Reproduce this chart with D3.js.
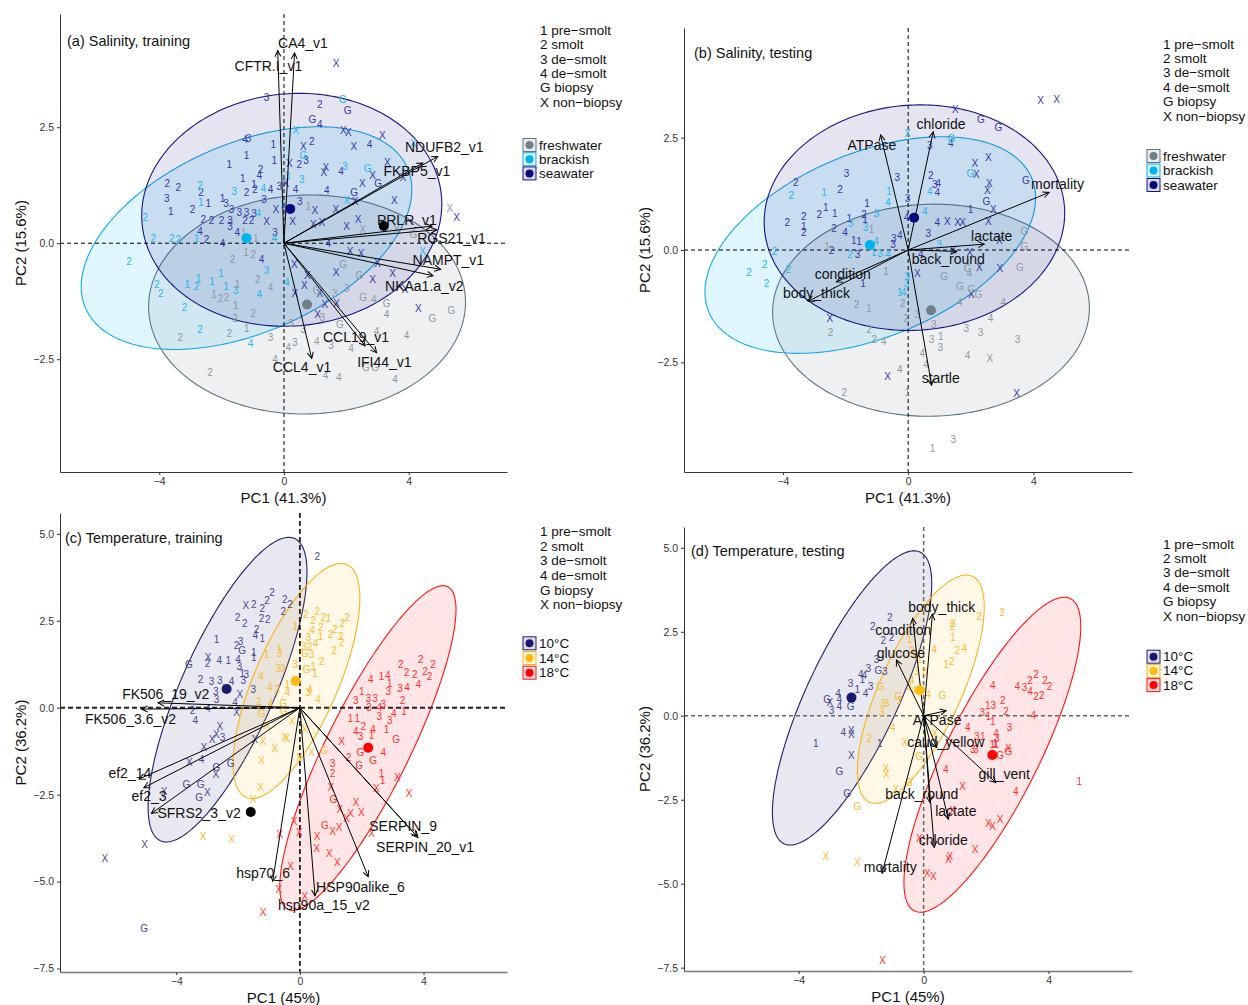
<!DOCTYPE html>
<html><head><meta charset="utf-8">
<script src="https://cdn.jsdelivr.net/npm/d3@7"></script>
<style>body{margin:0;background:#fff} text{font-family:"Liberation Sans",Arial,sans-serif}</style>
</head><body><svg id="c" width="1248" height="1005"></svg>
<script>
// ---------- DATA ----------
const legendLines = ["1 pre\u2212smolt","2 smolt","3 de\u2212smolt","4 de\u2212smolt","G biopsy","X non\u2212biopsy"];
const salinityKeys = [["fw","freshwater"],["br","brackish"],["sw","seawater"]];
const temperatureKeys = [["t10","10°C"],["t14","14°C"],["t18","18°C"]];

// ellipses: [group, cx, cy, rx, ry, phase]
const ellipsesA = [["fw",0.74,-1.32,5.08,2.36,0.02],["br",-1.2,0.11,5.3,2.4,0.45],["sw",0.25,0.72,4.81,2.51,0.05]];
const ellipsesB = [["fw",0.73,-1.34,5.06,2.36,0.02],["br",-1.21,0.11,5.28,2.41,0.45],["sw",0.2,0.72,4.8,2.51,0.04]];
const ellipsesC = [["t10",-2.34,0.52,2.57,4.38,0.88],["t14",-0.11,0.77,2.05,3.38,0.78],["t18",2.2,-1.16,2.85,4.67,1.02]];
const ellipsesD = [["t10",-2.29,0.53,2.55,4.38,0.89],["t14",-0.09,0.79,2.03,3.4,0.8],["t18",2.2,-1.16,2.83,4.69,0.95]];

// group means: [x, y, group]
const meansA = [[0.74,-1.32,"fw"],[-1.2,0.11,"br"],[0.2,0.74,"sw"],[3.2,0.37,"k"]];
const meansB = [[0.73,-1.34,"fw"],[-1.22,0.11,"br"],[0.19,0.72,"sw"]];
const meansC = [[-2.37,0.54,"t10"],[-0.14,0.77,"t14"],[2.21,-1.15,"t18"],[-1.59,-3.0,"k"]];
const meansD = [[-2.31,0.54,"t10"],[-0.12,0.76,"t14"],[2.2,-1.17,"t18"]];

// loadings: [name, tipX, tipY, labelX, labelY]
const arrowsA = [
 ["CFTR.I_v1",-0.2,4.15,-0.5,3.81],["CA4_v1",0.34,4.1,0.61,4.31],["NDUFB2_v1",4.93,1.87,5.14,2.07],
 ["FKBP5_v1",4.45,1.73,4.26,1.56],["PRLR_v1",4.74,0.37,3.94,0.49],["RGS21_v1",4.9,0.29,5.37,0.12],
 ["NAMPT_v1",5.02,-0.56,5.27,-0.37],["NKAa1.a_v2",4.78,-0.7,4.5,-0.92],["CCL19_v1",2.6,-2.21,2.31,-2.03],
 ["IFI44_v1",2.97,-2.36,3.22,-2.55],["CCL4_v1",0.89,-2.48,0.58,-2.67]];
const arrowsB = [
 ["ATPase",-0.88,2.56,-1.16,2.34],["chloride",0.8,2.63,1.05,2.8],["mortality",4.5,1.28,4.77,1.46],
 ["lactate",2.43,0.13,2.67,0.31],["back_round",1.55,-0.03,1.28,-0.2],["condition",-2.29,-0.71,-2.09,-0.54],
 ["body_thick",-3.19,-1.14,-2.93,-0.96],["startle",0.75,-3.01,1.04,-2.84]];
const arrowsC = [
 ["FK506_19_v2",-4.59,0.14,-4.34,0.39],["FK506_3.6_v2",-5.12,-0.04,-5.48,-0.33],["ef2_14",-5.2,-2.05,-5.5,-1.87],
 ["ef2_3",-5.05,-2.3,-4.88,-2.54],["SFRS2_3_v2",-4.8,-3.04,-3.26,-3.02],["SERPIN_9",3.78,-3.69,3.34,-3.4],
 ["SERPIN_20_v1",3.82,-3.73,4.05,-4.0],["hsp70_6",-0.88,-4.99,-1.19,-4.75],["HSP90alike_6",2.21,-4.86,1.96,-5.15],
 ["hsp90a_15_v2",0.49,-5.41,0.78,-5.68]];
const arrowsD = [
 ["body_thick",0.28,3.02,0.58,3.23],["condition",-0.35,2.9,-0.65,2.55],["glucose",-0.87,1.66,-0.73,1.88],
 ["ATPase",0.72,0.15,0.43,-0.13],["caud_yellow",0.42,-0.95,0.71,-0.77],["gill_vent",2.31,-1.99,2.58,-1.74],
 ["back_round",0.2,-2.58,-0.06,-2.33],["lactate",0.79,-3.08,1.03,-2.84],["chloride",0.34,-3.92,0.63,-3.7],
 ["mortality",-1.33,-4.69,-1.07,-4.49]];

// sample scores: [x, y, label, group]
const pointsA = [
 [1.67,3.88,"X","sw"],[-0.56,3.15,"3","sw"],[1.15,3.0,"2","sw"],[2.04,2.87,"G","sw"],[0.91,2.67,"G","sw"],[1.15,2.55,"4","sw"],
 [1.9,2.44,"X","sw"],[2.06,2.39,"X","sw"],[3.15,2.33,"X","sw"],[-1.14,2.26,"3","sw"],[-1.25,2.24,"4","sw"],[-0.34,2.12,"1","sw"],
 [0.62,2.08,"X","sw"],[0.89,2.19,"2","sw"],[2.24,2.08,"X","sw"],[2.74,2.13,"4","sw"],[-1.2,1.88,"1","sw"],[-0.31,1.78,"1","sw"],
 [0.17,1.71,"X","sw"],[0.49,1.69,"2","sw"],[0.71,1.78,"3","sw"],[-1.75,1.69,"1","sw"],[1.34,1.64,"X","sw"],[1.28,1.53,"X","sw"],
 [1.83,1.54,"4","sw"],[2.84,1.47,"X","sw"],[3.31,1.74,"X","sw"],[-0.75,1.59,"2","sw"],[-0.79,1.47,"4","sw"],[-1.32,1.4,"1","sw"],
 [3.02,1.28,"G","sw"],[2.51,1.28,"X","sw"],[3.82,1.42,"X","sw"],[-3.74,1.28,"2","sw"],[-3.39,1.2,"2","sw"],[-2.66,1.09,"2","sw"],
 [-1.2,1.09,"2","sw"],[-0.96,1.27,"1","sw"],[-0.93,1.16,"2","sw"],[-0.43,1.16,"4","sw"],[-0.15,1.22,"3","sw"],[0.37,1.15,"4","sw"],
 [1.37,1.14,"4","sw"],[2.25,1.09,"G","sw"],[3.54,0.93,"X","sw"],[-3.76,0.97,"3","sw"],[-2.43,0.86,"1","sw"],[-1.97,0.97,"1","sw"],
 [-1.86,0.86,"3","sw"],[-0.64,0.95,"3","sw"],[-3.63,0.68,"1","sw"],[-2.93,0.72,"2","sw"],[-1.68,0.72,"3","sw"],[-1.43,0.66,"3","sw"],
 [-1.2,0.66,"3","sw"],[-0.96,0.65,"3","sw"],[-0.26,0.73,"X","sw"],[0.51,0.9,"3","sw"],[0.99,0.7,"X","sw"],[1.66,0.72,"X","sw"],
 [-2.59,0.52,"2","sw"],[-2.32,0.5,"2","sw"],[-2.0,0.49,"2","sw"],[-1.73,0.49,"3","sw"],[-1.25,0.49,"2","sw"],[-1.04,0.49,"2","sw"],
 [-0.56,0.47,"X","sw"],[0.28,0.47,"X","sw"],[0.94,0.4,"X","sw"],[1.21,0.45,"X","sw"],[2.01,0.36,"X","sw"],[2.38,0.52,"X","sw"],
 [5.53,0.56,"X","sw"],[-1.73,0.36,"3","sw"],[-2.69,0.25,"4","sw"],[-1.5,0.23,"4","sw"],[-0.29,0.23,"3","sw"],[-2.48,0.07,"2","sw"],
 [-1.97,0.0,"4","sw"],[1.42,0.0,"4","sw"],[-0.72,-0.36,"4","sw"],[0.33,-0.45,"X","sw"],[0.75,-0.7,"X","sw"],[0.65,-0.92,"X","sw"],
 [0.35,-1.09,"X","sw"],[1.15,-1.09,"X","sw"],[1.31,-1.33,"X","sw"],[1.69,-1.29,"X","sw"],[1.08,-1.54,"X","sw"],[2.84,-0.78,"X","sw"],
 [3.48,-0.65,"X","sw"],[3.88,-0.99,"X","sw"],[4.31,-1.4,"X","sw"],[3.0,-0.43,"X","sw"],[1.67,-0.63,"X","sw"],[2.12,-0.18,"X","sw"],
 [2.47,-0.22,"X","sw"],[0.06,1.29,"X","sw"],[2.28,0.9,"X","sw"],
 [1.88,3.1,"G","br"],[0.38,2.44,"X","br"],[4.15,2.16,"X","br"],[0.62,1.9,"G","br"],[1.96,1.65,"3","br"],[2.68,1.62,"G","br"],
 [0.11,1.44,"3","br"],[0.57,1.38,"3","br"],[-2.69,1.24,"2","br"],[-1.59,1.11,"3","br"],[-0.66,1.19,"4","br"],[-2.67,0.88,"1","br"],
 [2.01,0.93,"X","br"],[-0.82,0.65,"4","br"],[-0.04,0.83,"1","br"],[-4.45,0.56,"2","br"],[-4.19,0.11,"2","br"],[-3.39,0.07,"2","br"],
 [-2.8,0.11,"1","br"],[4.44,-0.18,"X","br"],[-4.97,-0.4,"2","br"],[-4.08,-0.88,"2","br"],[-3.95,-1.08,"2","br"],[-3.1,-0.88,"1","br"],
 [-2.8,-0.93,"2","br"],[-2.74,-0.75,"1","br"],[-2.31,-0.83,"1","br"],[-3.19,-1.39,"2","br"],[-2.69,-1.85,"2","br"],[-1.07,-2.17,"4","br"],
 [-2.02,-0.65,"1","br"],[-1.86,-0.93,"1","br"],[-1.55,-1.02,"3","br"],[-0.79,-1.11,"4","br"],[-0.56,-0.59,"3","br"],[0.09,-0.85,"4","br"],
 [-3.6,0.1,"2","br"],[-0.3,0.1,"4","br"],
 [0.78,0.8,"1","fw"],[2.52,0.29,"X","fw"],[5.32,0.75,"X","fw"],[3.61,0.29,"X","fw"],[4.15,0.18,"G","fw"],[-3.32,-2.03,"2","fw"],
 [-1.75,-1.94,"2","fw"],[-1.2,-1.83,"1","fw"],[-0.43,-2.03,"3","fw"],[-2.37,-2.78,"2","fw"],[-2.24,-1.11,"1","fw"],[-2.03,-1.19,"2","fw"],
 [-1.84,-1.16,"2","fw"],[-1.5,-0.88,"1","fw"],[-0.85,-0.79,"2","fw"],[-0.43,-0.95,"4","fw"],[-1.55,-1.34,"1","fw"],[-0.98,-1.52,"2","fw"],
 [-1.57,-1.63,"2","fw"],[-1.65,-0.36,"2","fw"],[-1.22,-0.2,"1","fw"],[-0.98,-0.25,"2","fw"],[1.05,-1.01,"G","fw"],[1.63,-1.08,"3","fw"],
 [2.01,-0.97,"3","fw"],[1.23,-1.59,"3","fw"],[1.79,-1.76,"G","fw"],[0.22,-1.74,"3","fw"],[0.62,-1.85,"3","fw"],[0.14,-2.24,"4","fw"],
 [0.35,-2.14,"3","fw"],[1.05,-2.12,"4","fw"],[1.51,-2.21,"3","fw"],[2.15,-2.26,"4","fw"],[-0.29,-2.51,"4","fw"],[1.33,-2.84,"4","fw"],
 [1.76,-2.89,"4","fw"],[2.63,-2.67,"G","fw"],[2.92,-2.67,"G","fw"],[3.56,-2.93,"4","fw"],[2.97,-1.9,"4","fw"],[3.93,-1.98,"4","fw"],
 [3.29,-1.54,"4","fw"],[2.54,-1.16,"G","fw"],[2.88,-1.21,"4","fw"],[3.29,-1.29,"G","fw"],[4.76,-1.62,"G","fw"],[5.37,-1.44,"G","fw"],
 [1.9,-0.45,"G","fw"],[2.42,-0.7,"G","fw"],[-1.3,0.23,"1","fw"],[-0.9,0.1,"1","fw"]];

const pointsB = [
 [4.23,3.33,"X","sw"],[4.74,3.36,"X","sw"],[1.51,3.12,"X","sw"],[2.32,2.91,"G","sw"],[2.88,2.72,"G","sw"],[1.36,2.38,"4","sw"],
 [0.69,2.32,"3","sw"],[2.56,2.06,"X","sw"],[2.13,1.93,"X","sw"],[2.18,1.67,"X","sw"],[-1.97,1.71,"3","sw"],[-0.35,1.62,"3","sw"],
 [0.72,1.65,"2","sw"],[0.85,1.45,"3","sw"],[0.96,1.48,"4","sw"],[0.93,1.28,"4","sw"],[2.59,1.47,"X","sw"],[2.53,1.32,"X","sw"],
 [3.76,1.54,"G","sw"],[-3.59,1.5,"2","sw"],[-2.18,1.35,"2","sw"],[-0.02,1.15,"3","sw"],[-1.31,1.04,"1","sw"],[2.5,1.08,"G","sw"],
 [2.72,0.91,"X","sw"],[1.99,0.91,"1","sw"],[-3.86,0.62,"2","sw"],[-3.33,0.74,"2","sw"],[-2.84,0.78,"2","sw"],[-2.63,0.94,"1","sw"],
 [-2.34,0.82,"1","sw"],[-1.88,0.71,"1","sw"],[-1.41,0.8,"2","sw"],[-1.38,0.67,"1","sw"],[-0.05,0.72,"4","sw"],[0.93,0.62,"4","sw"],
 [1.25,0.63,"X","sw"],[1.58,0.61,"X","sw"],[1.74,0.61,"X","sw"],[2.56,0.63,"X","sw"],[-3.33,0.52,"1","sw"],[-3.33,0.39,"2","sw"],
 [-2.37,0.48,"2","sw"],[-2.02,0.39,"4","sw"],[0.64,0.36,"3","sw"],[2.91,0.21,"X","sw"],[-1.74,0.22,"1","sw"],[-1.57,0.19,"1","sw"],
 [-0.27,0.33,"4","sw"],[-0.46,0.26,"3","sw"],[-0.48,0.13,"3","sw"],[-2.45,0.0,"2","sw"],[-1.62,-0.11,"3","sw"],[1.97,-0.06,"X","sw"],
 [0.29,-0.52,"X","sw"],[2.27,-0.39,"X","sw"],[2.93,-0.41,"X","sw"],[-1.44,-0.74,"1","sw"],[2.02,-0.98,"X","sw"],[-2.5,-1.52,"X","sw"],
 [-0.66,-2.81,"X","sw"],[3.46,-3.19,"X","sw"],[1.44,0.0,"X","sw"],[0.4,-0.1,"4","sw"],
 [-0.02,2.6,"X","br"],[1.38,2.49,"G","br"],[1.99,1.71,"G","br"],[0.69,1.3,"4","br"],[-3.73,1.22,"2","br"],[-2.69,1.28,"1","br"],
 [-0.61,1.3,"1","br"],[-0.64,1.05,"4","br"],[-1.83,0.59,"3","br"],[-1.01,0.82,"3","br"],[0.53,0.85,"4","br"],[-1.36,0.5,"3","br"],
 [-1.03,0.19,"4","br"],[0.99,0.13,"3","br"],[-4.26,-0.04,"2","br"],[-1.86,-0.09,"2","br"],[-0.64,-0.11,"4","br"],[-4.58,-0.33,"2","br"],
 [-5.08,-0.5,"2","br"],[-4.52,-0.74,"2","br"],[-3.83,-0.43,"2","br"],[-0.03,-0.58,"3","br"],[-0.05,-0.74,"3","br"],[-0.27,-0.95,"1","br"],
 [-0.15,-0.95,"4","br"],[-1.1,-0.05,"1","br"],[-0.9,-0.08,"3","br"],
 [-1.17,0.45,"1","fw"],[3.71,0.41,"G","fw"],[-2.59,0.07,"1","fw"],[3.71,0.07,"G","fw"],[-0.71,-0.48,"1","fw"],[1.15,-0.59,"G","fw"],
 [1.9,-0.41,"G","fw"],[1.95,-0.52,"4","fw"],[3.57,-0.39,"G","fw"],[1.65,-0.82,"G","fw"],[2.02,-0.89,"G","fw"],[2.24,-0.98,"G","fw"],
 [1.65,-1.17,"4","fw"],[3.04,-1.17,"4","fw"],[-1.65,-1.22,"2","fw"],[-1.25,-1.3,"1","fw"],[-0.18,-1.19,"2","fw"],[-0.07,-1.52,"2","fw"],
 [0.3,-1.43,"3","fw"],[2.63,-1.52,"4","fw"],[0.82,-1.65,"3","fw"],[-2.48,-1.84,"2","fw"],[-1.25,-1.77,"2","fw"],[-1.09,-2.0,"2","fw"],
 [-0.78,-2.03,"4","fw"],[1.86,-1.74,"3","fw"],[2.31,-1.84,"3","fw"],[3.49,-1.99,"3","fw"],[1.04,-1.93,"1","fw"],[0.75,-2.0,"3","fw"],
 [1.03,-2.17,"3","fw"],[0.45,-2.3,"4","fw"],[0.57,-2.55,"4","fw"],[1.9,-2.35,"4","fw"],[2.61,-2.41,"X","fw"],[-0.27,-2.67,"4","fw"],
 [-2.04,-3.16,"2","fw"],[-0.03,-3.18,"1","fw"],[1.44,-4.22,"3","fw"],[0.78,-4.42,"1","fw"]];

const pointsC = [
 [0.56,4.35,"2","t10"],[-0.9,3.31,"2","t10"],[-0.49,3.12,"2","t10"],[-0.32,2.97,"2","t10"],[-1.75,2.94,"X","t10"],[-1.49,2.98,"2","t10"],
 [-1.06,3.08,"2","t10"],[-1.22,2.84,"2","t10"],[-0.54,2.76,"2","t10"],[-2.02,2.59,"2","t10"],[-1.78,2.43,"2","t10"],[-1.24,2.57,"2","t10"],
 [-1.04,2.54,"2","t10"],[-1.4,2.26,"2","t10"],[-1.44,2.09,"4","t10"],[-1.22,2.0,"1","t10"],[-2.7,1.95,"1","t10"],[-1.92,1.9,"3","t10"],
 [-2.05,1.8,"2","t10"],[-1.87,1.64,"G","t10"],[-1.49,1.58,"1","t10"],[-1.49,1.44,"1","t10"],[-2.97,1.45,"X","t10"],[-2.99,1.28,"2","t10"],
 [-2.61,1.35,"4","t10"],[-2.32,1.37,"1","t10"],[-2.0,1.4,"4","t10"],[-3.59,1.25,"G","t10"],[-1.96,1.18,"3","t10"],[-1.86,0.97,"1","t10"],
 [-1.73,0.96,"3","t10"],[-3.21,0.82,"2","t10"],[-2.86,0.75,"3","t10"],[-2.59,0.78,"3","t10"],[-2.21,0.75,"4","t10"],[-1.83,0.78,"3","t10"],
 [-1.51,0.51,"3","t10"],[-2.72,0.46,"3","t10"],[-2.7,0.24,"3","t10"],[-1.94,0.38,"X","t10"],[-2.1,0.14,"4","t10"],[-3.47,-0.07,"2","t10"],
 [-2.97,-0.02,"4","t10"],[-3.38,-0.37,"4","t10"],[-2.05,-0.14,"X","t10"],[-2.59,-0.55,"X","t10"],[-2.7,-0.76,"X","t10"],[-2.84,-0.91,"X","t10"],
 [-3.11,-1.14,"X","t10"],[-3.58,-1.58,"X","t10"],[-3.18,-1.5,"4","t10"],[-2.7,-1.72,"G","t10"],[-2.24,-1.6,"G","t10"],[-2.72,-1.91,"X","t10"],
 [-3.67,-2.2,"G","t10"],[-3.21,-2.2,"G","t10"],[-2.99,-2.45,"X","t10"],[-4.39,-2.42,"X","t10"],[-3.26,-2.58,"G","t10"],[-5.02,-3.93,"X","t10"],
 [-6.31,-4.34,"X","t10"],[-5.04,-6.35,"G","t10"],[-1.46,-0.91,"X","t10"],[-2.5,-0.85,"3","t10"],[-2.4,0.55,"X","t10"],
 [0.19,2.67,"2","t14"],[0.56,2.76,"2","t14"],[0.76,2.6,"2","t14"],[0.92,2.57,"1","t14"],[0.43,2.52,"2","t14"],[1.53,2.6,"2","t14"],
 [1.37,2.43,"2","t14"],[-0.14,2.33,"1","t14"],[0.67,2.31,"2","t14"],[0.4,2.22,"4","t14"],[0.27,2.02,"3","t14"],[0.67,2.04,"1","t14"],
 [1.13,2.26,"2","t14"],[0.99,2.12,"2","t14"],[1.32,2.06,"2","t14"],[1.35,1.87,"2","t14"],[0.13,1.76,"3","t14"],[0.32,1.76,"2","t14"],
 [0.51,1.85,"4","t14"],[1.11,1.64,"2","t14"],[-0.67,1.68,"1","t14"],[-1.08,1.53,"1","t14"],[-0.65,1.56,"3","t14"],[0.16,1.56,"G","t14"],
 [0.38,1.54,"3","t14"],[0.7,1.34,"2","t14"],[0.43,1.2,"1","t14"],[-0.16,1.23,"3","t14"],[-0.7,1.13,"3","t14"],[-0.55,1.13,"3","t14"],
 [0.22,1.1,"G","t14"],[0.49,0.97,"1","t14"],[-1.26,0.91,"4","t14"],[-0.97,0.59,"4","t14"],[-0.73,0.51,"2","t14"],[-0.41,0.68,"1","t14"],
 [-0.41,0.44,"4","t14"],[0.32,0.53,"4","t14"],[0.27,0.43,"3","t14"],[0.59,0.24,"4","t14"],[-1.33,0.17,"2","t14"],[-0.95,0.12,"4","t14"],
 [-0.54,0.12,"G","t14"],[-0.52,-0.12,"G","t14"],[-1.24,-0.16,"G","t14"],[-0.25,-0.4,"X","t14"],[-1.08,-0.5,"X","t14"],[0.16,-0.62,"X","t14"],
 [-1.19,-0.98,"X","t14"],[-0.81,-1.17,"X","t14"],[-0.49,-0.85,"X","t14"],[-0.41,-0.88,"X","t14"],[-1.24,-1.51,"X","t14"],[-0.02,-1.43,"X","t14"],
 [0.38,-1.29,"X","t14"],[0.78,-1.24,"G","t14"],[-1.27,-2.29,"X","t14"],[-1.51,-2.64,"X","t14"],[-3.13,-3.69,"X","t14"],[-2.21,-3.79,"X","t14"],
 [3.91,1.39,"2","t18"],[4.31,1.23,"2","t18"],[3.26,1.25,"2","t18"],[3.45,1.01,"2","t18"],[3.72,0.96,"2","t18"],[4.05,1.04,"2","t18"],
 [4.19,0.91,"2","t18"],[2.29,0.8,"4","t18"],[2.64,0.91,"1","t18"],[2.84,0.94,"4","t18"],[2.91,0.7,"1","t18"],[3.24,0.56,"3","t18"],
 [3.47,0.59,"4","t18"],[3.83,0.68,"4","t18"],[2.0,0.46,"1","t18"],[1.81,0.2,"3","t18"],[2.21,0.27,"3","t18"],[2.43,0.27,"3","t18"],
 [2.86,0.46,"3","t18"],[2.7,0.1,"3","t18"],[3.32,0.2,"2","t18"],[2.24,0.01,"3","t18"],[2.57,0.01,"4","t18"],[3.37,-0.12,"1","t18"],
 [3.04,-0.18,"4","t18"],[1.64,-0.31,"1","t18"],[1.86,-0.31,"1","t18"],[2.57,-0.26,"3","t18"],[2.91,-0.37,"3","t18"],[2.05,-0.53,"2","t18"],
 [2.8,-0.64,"1","t18"],[1.81,-0.69,"4","t18"],[1.96,-0.83,"3","t18"],[2.32,-0.79,"1","t18"],[2.37,-0.62,"4","t18"],[3.11,-0.91,"G","t18"],
 [1.35,-0.98,"X","t18"],[1.57,-1.43,"2","t18"],[1.96,-1.29,"G","t18"],[2.7,-1.29,"4","t18"],[1.06,-1.6,"3","t18"],[1.06,-1.89,"2","t18"],
 [1.92,-1.65,"G","t18"],[2.37,-1.51,"G","t18"],[2.64,-1.9,"1","t18"],[2.67,-2.1,"1","t18"],[3.15,-2.01,"X","t18"],[2.47,-2.32,"X","t18"],
 [3.53,-2.47,"X","t18"],[1.0,-2.29,"X","t18"],[1.08,-2.64,"G","t18"],[1.81,-2.73,"X","t18"],[1.29,-2.93,"X","t18"],[1.64,-3.04,"X","t18"],
 [1.99,-3.02,"X","t18"],[1.51,-3.19,"X","t18"],[-0.19,-3.28,"X","t18"],[0.81,-3.38,"G","t18"],[1.06,-3.55,"X","t18"],[1.27,-3.45,"X","t18"],
 [-0.65,-3.66,"X","t18"],[-0.02,-3.6,"X","t18"],[0.56,-3.71,"X","t18"],[0.54,-4.05,"X","t18"],[0.95,-4.19,"X","t18"],[1.21,-4.46,"X","t18"],
 [2.32,-3.62,"X","t18"],[-0.3,-4.56,"X","t18"],[-0.68,-5.23,"X","t18"],[0.16,-5.44,"X","t18"],[-1.19,-5.9,"X","t18"]];

const pointsD = [
 [-1.08,2.92,"2","t10"],[-1.63,2.67,"2","t10"],[-1.03,2.33,"2","t10"],[-1.29,2.25,"2","t10"],[-1.51,1.68,"3","t10"],[-1.77,1.41,"3","t10"],
 [-1.45,1.34,"G","t10"],[-1.24,1.31,"3","t10"],[-2.01,1.24,"4","t10"],[-1.9,1.2,"4","t10"],[-1.96,1.08,"1","t10"],[-2.34,0.96,"3","t10"],
 [-2.12,0.78,"1","t10"],[-1.7,0.86,"3","t10"],[-1.86,0.66,"4","t10"],[-2.74,0.66,"4","t10"],[-3.09,0.47,"G","t10"],[-3.0,0.39,"X","t10"],
 [-2.7,0.47,"4","t10"],[-2.7,0.29,"4","t10"],[-2.34,0.27,"G","t10"],[-2.95,0.17,"3","t10"],[-2.57,-0.51,"4","t10"],[-2.31,-0.43,"X","t10"],
 [-2.31,-0.55,"X","t10"],[-3.45,-0.82,"1","t10"],[-2.31,-1.17,"X","t10"],[-1.4,-0.84,"1","t10"],[-2.7,-1.67,"G","t10"],[-2.45,-2.31,"G","t10"],
 [-1.38,0.86,"G","t14"],[-1.19,0.35,"3","t14"],[-1.3,0.35,"3","t14"],[-1.35,0.09,"3","t14"],[-0.99,-0.36,"4","t14"],[-1.74,-0.69,"2","t14"],
 [-0.81,0.57,"G","t14"],[-0.78,0.45,"1","t14"],[0.93,2.75,"2","t14"],[0.93,2.67,"2","t14"],[0.93,2.33,"1","t14"],[1.08,1.95,"2","t14"],
 [1.3,2.0,"4","t14"],[0.72,1.54,"1","t14"],[0.9,1.61,"2","t14"],[1.77,2.95,"2","t14"],[2.52,3.07,"2","t14"],[0.34,1.97,"4","t14"],
 [-0.28,1.76,"4","t14"],[-0.22,1.31,"3","t14"],[-0.12,1.66,"1","t14"],[-0.47,0.88,"3","t14"],[-0.31,0.76,"4","t14"],[0.6,0.59,"G","t14"],
 [0.15,0.62,"4","t14"],[0.04,1.31,"3","t14"],[-0.38,1.04,"4","t14"],[0.36,-0.53,"X","t14"],[-0.46,2.27,"1","t14"],[-0.38,1.95,"2","t14"],
 [-0.6,-0.8,"X","t14"],[-2.12,-2.69,"G","t14"],[-1.21,-1.57,"X","t14"],[-1.19,-1.74,"X","t14"],[-0.89,-2.19,"X","t14"],[-0.46,-1.99,"G","t14"],
 [-0.14,-1.2,"G","t14"],[-3.13,-4.18,"X","t14"],[-2.12,-4.38,"X","t14"],
 [3.6,1.24,"2","t18"],[3.89,1.06,"2","t18"],[4.03,0.86,"2","t18"],[3.41,1.06,"2","t18"],[2.21,0.91,"4","t18"],[3.0,0.86,"4","t18"],
 [3.23,0.84,"3","t18"],[3.41,0.71,"4","t18"],[3.6,0.57,"2","t18"],[3.78,0.59,"2","t18"],[2.53,0.44,"2","t18"],[2.05,0.32,"1","t18"],
 [2.23,0.32,"3","t18"],[1.88,0.09,"3","t18"],[2.07,-0.01,"1","t18"],[2.64,0.12,"2","t18"],[2.21,-0.18,"1","t18"],[3.51,0.02,"4","t18"],
 [1.41,-0.36,"4","t18"],[1.7,-0.63,"3","t18"],[1.89,-0.63,"1","t18"],[2.32,-0.53,"4","t18"],[2.34,-0.67,"3","t18"],[2.75,-0.35,"3","t18"],
 [2.29,-0.84,"1","t18"],[1.57,-1.0,"3","t18"],[1.68,-1.0,"3","t18"],[2.71,-0.97,"X","t18"],[2.45,-1.17,"G","t18"],[2.71,-1.07,"G","t18"],
 [2.2,-0.85,"1","t18"],[2.32,-0.85,"1","t18"],[0.71,-1.6,"4","t18"],[1.25,-2.11,"X","t18"],[4.98,-1.96,"1","t18"],[2.95,-2.26,"4","t18"],
 [2.45,-3.1,"X","t18"],[2.07,-3.22,"X","t18"],[2.21,-3.3,"X","t18"],[0.93,-2.81,"X","t18"],[-0.14,-3.65,"X","t18"],[1.65,-3.98,"X","t18"],
 [0.84,-4.2,"X","t18"],[0.79,-4.28,"X","t18"],[0.12,-4.69,"X","t18"],[0.31,-4.79,"X","t18"],[-1.31,-7.3,"X","t18"]];

// ---------- STYLE ----------
const col = {
 fw:{pt:"#8c99a2",stroke:"#5e7685",fill:"#708090",fo:0.12,mean:"#6f8089"},
 br:{pt:"#25b6ee",stroke:"#14aae8",fill:"#00b2ee",fo:0.12,mean:"#00b2ee"},
 sw:{pt:"#3636a3",stroke:"#161684",fill:"#000080",fo:0.1,mean:"#08087e"},
 t10:{pt:"#48488a",stroke:"#1f1f6a",fill:"#191970",fo:0.1,mean:"#191970"},
 t14:{pt:"#f6bc35",stroke:"#fbb31a",fill:"#ffb90f",fo:0.1,mean:"#ffb90f"},
 t18:{pt:"#ff3030",stroke:"#ff1414",fill:"#ff0000",fo:0.1,mean:"#ff0000"},
 k:{mean:"#000"}
};

const panels = [
 {id:"a",frame:[60,507,14,472],xd:[-7.18,7.15],yd:[-4.93,4.94],yt:[-2.5,0,2.5],title:"(a) Salinity, training",tpos:[67,41],
  xlab:"PC1 (41.3%)",ylab:"PC2 (15.6%)",pts:pointsA,arr:arrowsA,ell:ellipsesA,means:meansA,keys:salinityKeys,
  leg:[540,30.5,14.3],key:[523,145,14.2],zero:{c:"#000",w:1,d:"4,3"},bottom:{c:"#333",w:1}},
 {id:"b",frame:[684,1132,28,472],xd:[-7.16,7.15],yd:[-4.94,4.94],yt:[-2.5,0,2.5],title:"(b) Salinity, testing",tpos:[694,53],
  xlab:"PC1 (41.3%)",ylab:"PC2 (15.6%)",pts:pointsB,arr:arrowsB,ell:ellipsesB,means:meansB,keys:salinityKeys,
  leg:[1163,44,14.4],key:[1147,156,14.5],zero:{c:"#000",w:1,d:"4,3"},bottom:{c:"#333",w:1}},
 {id:"c",frame:[60,507,513,972],xd:[-7.76,6.7],yd:[-7.6,5.6],yt:[-7.5,-5,-2.5,0,2.5,5],title:"(c) Temperature, training",tpos:[65,538],
  xlab:"PC1 (45%)",ylab:"PC2 (36.2%)",pts:pointsC,arr:arrowsC,ell:ellipsesC,means:meansC,keys:temperatureKeys,
  leg:[540,531.7,14.6],key:[523,643.3,14.7],zero:{c:"#222",w:1.8,d:"5,3"},bottom:{c:"#7a7a7a",w:1.6}},
 {id:"d",frame:[684,1132,527,971],xd:[-7.67,6.67],yd:[-7.6,5.62],yt:[-7.5,-5,-2.5,0,2.5,5],title:"(d) Temperature, testing",tpos:[691,551],
  xlab:"PC1 (45%)",ylab:"PC2 (36.2%)",pts:pointsD,arr:arrowsD,ell:ellipsesD,means:meansD,keys:temperatureKeys,
  leg:[1163,544,14.4],key:[1147,656.7,14.2],zero:{c:"#666",w:1.5,d:"4,3"},bottom:{c:"#7a7a7a",w:1.6}}
];

// ---------- DRAW ----------
const svg = d3.select("#c");
const defs = svg.append("defs");
defs.append("marker").attr("id","arr").attr("viewBox","-8 -5 10 10").attr("refX",0).attr("refY",0)
  .attr("markerWidth",10).attr("markerHeight",10).attr("markerUnits","userSpaceOnUse").attr("orient","auto")
  .append("path").attr("d","M-6,-3L0,0L-6,3").attr("fill","none").attr("stroke","#000").attr("stroke-width",1);

panels.forEach(p => {
  const [L,R,T,B] = p.frame;
  const x = d3.scaleLinear().domain(p.xd).range([L,R]);
  const y = d3.scaleLinear().domain(p.yd).range([B,T]);
  defs.append("clipPath").attr("id","clip"+p.id).append("rect").attr("x",L).attr("y",T).attr("width",R-L).attr("height",B-T);
  const g = svg.append("g");
  const plot = g.append("g").attr("clip-path",`url(#clip${p.id})`);

  // ellipses
  const ts = d3.range(0, 2*Math.PI, Math.PI/120);
  const line = d3.line().x(d=>x(d[0])).y(d=>y(d[1])).curve(d3.curveLinearClosed);
  p.ell.forEach(([grp,cx,cy,rx,ry,ph]) => {
    const pts = ts.map(t=>[cx+rx*Math.cos(t), cy+ry*Math.sin(t+ph)]);
    plot.append("path").attr("d",line(pts)).attr("fill",col[grp].fill).attr("fill-opacity",col[grp].fo)
      .attr("stroke",col[grp].stroke).attr("stroke-width",1.1);
  });

  // zero lines
  plot.append("line").attr("x1",x(0)).attr("x2",x(0)).attr("y1",T).attr("y2",B)
    .attr("stroke",p.zero.c).attr("stroke-width",p.zero.w).attr("stroke-dasharray",p.zero.d);
  plot.append("line").attr("x1",L).attr("x2",R).attr("y1",y(0)).attr("y2",y(0))
    .attr("stroke",p.zero.c).attr("stroke-width",p.zero.w).attr("stroke-dasharray",p.zero.d);

  // points
  plot.selectAll("text.pt").data(p.pts).join("text").attr("class","pt")
    .attr("x",d=>x(d[0])).attr("y",d=>y(d[1])).text(d=>d[2])
    .attr("fill",d=>col[d[3]].pt).attr("font-size",10).attr("text-anchor","middle").attr("dominant-baseline","central");

  // arrows
  plot.selectAll("line.ar").data(p.arr).join("line").attr("class","ar")
    .attr("x1",x(0)).attr("y1",y(0)).attr("x2",d=>x(d[1])).attr("y2",d=>y(d[2]))
    .attr("stroke","#000").attr("stroke-width",1).attr("marker-end","url(#arr)");
  plot.selectAll("text.al").data(p.arr).join("text").attr("class","al")
    .attr("x",d=>x(d[3])).attr("y",d=>y(d[4])).text(d=>d[0])
    .attr("fill","#111").attr("font-size",14).attr("text-anchor","middle").attr("dominant-baseline","central");

  // means
  plot.selectAll("circle.mn").data(p.means).join("circle").attr("class","mn")
    .attr("cx",d=>x(d[0])).attr("cy",d=>y(d[1])).attr("r",5).attr("fill",d=>col[d[2]].mean);

  // axes
  const ax = g.append("g").attr("transform",`translate(0,${B})`)
    .call(d3.axisBottom(x).tickValues([-4,0,4]).tickSize(3).tickSizeOuter(0).tickFormat(d3.format("d")));
  ax.select(".domain").attr("stroke",p.bottom.c).attr("stroke-width",p.bottom.w);
  const ay = g.append("g").attr("transform",`translate(${L},0)`)
    .call(d3.axisLeft(y).tickValues(p.yt).tickSize(3).tickSizeOuter(0).tickFormat(d3.format(".1f")));
  ay.select(".domain").attr("stroke","#333");
  [ax,ay].forEach(a => {
    a.selectAll(".tick line").attr("stroke","#333");
    a.selectAll(".tick text").attr("fill","#333").attr("font-size",10.5).attr("font-family","Liberation Sans, Arial, sans-serif");
  });

  // axis titles
  g.append("text").attr("x",(L+R)/2).attr("y",B+25).text(p.xlab).attr("font-size",15)
    .attr("text-anchor","middle").attr("dominant-baseline","central").attr("fill","#111");
  g.append("text").attr("transform",`translate(${L-40},${(T+B)/2}) rotate(-90)`).text(p.ylab).attr("font-size",15)
    .attr("text-anchor","middle").attr("dominant-baseline","central").attr("fill","#111");

  // panel title
  g.append("text").attr("x",p.tpos[0]).attr("y",p.tpos[1]).text(p.title).attr("font-size",14.5)
    .attr("dominant-baseline","central").attr("fill","#111");

  // legend lines
  g.selectAll("text.lg").data(legendLines).join("text").attr("class","lg")
    .attr("x",p.leg[0]).attr("y",(d,i)=>p.leg[1]+i*p.leg[2]).text(d=>d)
    .attr("font-size",13.5).attr("dominant-baseline","central").attr("fill","#111");

  // keys
  p.keys.forEach(([grp,name],i) => {
    const cy = p.key[1]+i*p.key[2];
    g.append("rect").attr("x",p.key[0]).attr("y",cy-6.5).attr("width",13).attr("height",13)
      .attr("fill",col[grp].fill).attr("fill-opacity",0.15).attr("stroke",col[grp].stroke).attr("stroke-width",1);
    g.append("circle").attr("cx",p.key[0]+6.5).attr("cy",cy).attr("r",4).attr("fill",col[grp].mean);
    g.append("text").attr("x",p.key[0]+16).attr("y",cy).text(name).attr("font-size",13.5)
      .attr("dominant-baseline","central").attr("fill","#111");
  });
});
</script></body></html>
